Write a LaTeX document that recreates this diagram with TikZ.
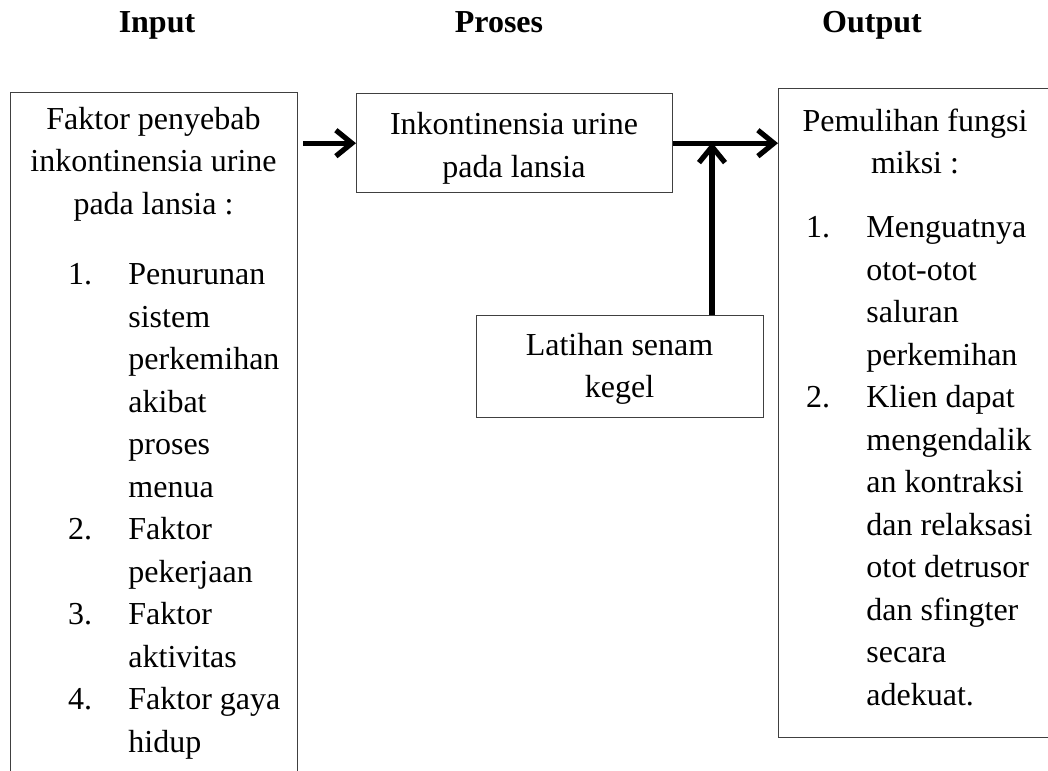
\documentclass[tikz,border=0pt]{standalone}
\usepackage{fontspec}
\setmainfont{Liberation Serif}
\usetikzlibrary{positioning,arrows.meta}

\tikzset{
  box/.style={shape=rectangle,draw=black!75,line width=0.7pt,anchor=north west,inner sep=0pt},
  txt/.style={inner sep=0pt,anchor=base,font=\fontsize{16}{21.25}\selectfont},
  flow/.style={line width=2.6pt,-{Straight Barb[length=8pt,width=13pt]}},
}

\begin{document}
\begin{tikzpicture}[x=0.5pt,y=-0.5pt]

        \useasboundingbox (0,0) rectangle (1048,770);

        % column titles
        \node[txt,font=\fontsize{16}{21.25}\selectfont\bfseries] (tin) at (157,33) {Input};
        \node[txt,font=\fontsize{16}{21.25}\selectfont\bfseries] (tpro) at (499,33) {Proses};
        \node[txt,font=\fontsize{16}{21.25}\selectfont\bfseries] (tout) at (872,33) {Output};

        % boxes
        \node[box,minimum width=143.5pt,minimum height=349pt] (faktor) at (10,92) {};
        \node[box,minimum width=158pt,minimum height=49.5pt] (inkon) at (356,93) {};
        \node[box,minimum width=143.5pt,minimum height=51pt] (kegel) at (476,315) {};
        \node[box,minimum width=137pt,minimum height=324.5pt] (pulih) at (778,88) {};

        % input text (base = last line)
        \node[txt,align=center] (fhead) at (153.5,214) {Faktor penyebab\\inkontinensia urine\\pada lansia :};
        \node[txt] (fn1) at (80,284.5) {1.};
        \node[txt] (fn2) at (80,539.5) {2.};
        \node[txt] (fn3) at (80,624.5) {3.};
        \node[txt] (fn4) at (80,709.5) {4.};
        \node[txt,anchor=base west,align=left] (flist) at (128,752) {Penurunan\\sistem\\perkemihan\\akibat\\proses\\menua\\Faktor\\pekerjaan\\Faktor\\aktivitas\\Faktor gaya\\hidup};

        % process text
        \node[txt,align=center] (ihead) at (514,177.5) {Inkontinensia urine\\pada lansia};
        \node[txt,align=center] (khead) at (619.5,397.5) {Latihan senam\\kegel};

        % output text
        \node[txt,align=center] (phead) at (915,174) {Pemulihan fungsi\\miksi :};
        \node[txt] (pn1) at (818,237.5) {1.};
        \node[txt] (pn2) at (818,407.5) {2.};
        \node[txt,anchor=base west,align=left] (plist) at (866,705) {Menguatnya\\otot-otot\\saluran\\perkemihan\\Klien dapat\\mengendalik\\an kontraksi\\dan relaksasi\\otot detrusor\\dan sfingter\\secara\\adekuat.};

        % arrows
        \coordinate (join) at (712,142.5);
        \draw[flow] ([xshift=2.5pt]faktor.east |- inkon.west) -- (inkon.west);
        \draw[flow] (inkon.east) -- (pulih.west |- inkon.east);
        \draw[flow] (kegel.north -| join) -- (join);

\end{tikzpicture}
\end{document}
